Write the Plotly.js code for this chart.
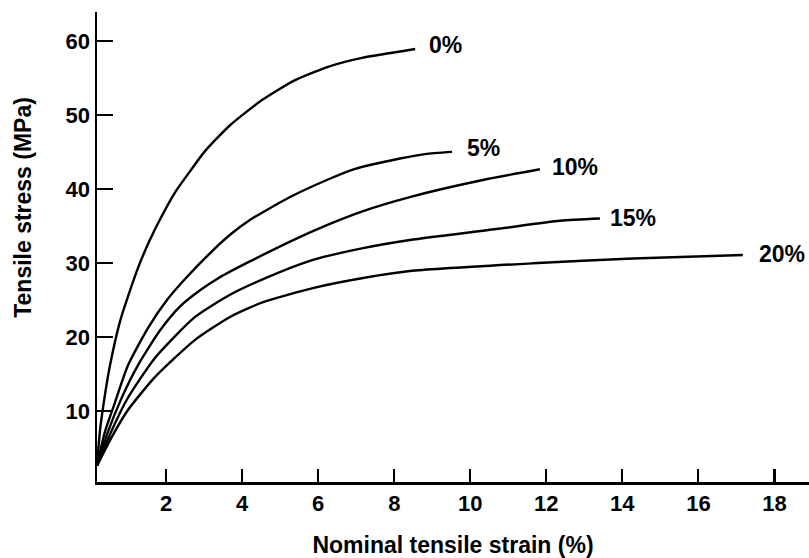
<!DOCTYPE html>
<html>
<head>
<meta charset="utf-8">
<script src="https://cdn.plot.ly/plotly-3.0.1.min.js"></script>
<style>html,body{margin:0;padding:0;background:#fff;}#chart{width:809px;height:558px;}</style>
</head>
<body>
<div id="chart"></div>
<script>
// Series labels
const seriesLabels = ["0%", "5%", "10%", "15%", "20%"];

// Nominal tensile strain (%) and tensile stress (MPa)
const strain0  = [0.18, 0.26, 0.39, 0.52, 0.78, 1.05, 1.31, 1.57, 1.84, 2.23, 2.63, 3.02, 3.68, 4.52, 5.39, 6.26, 7.15, 8.55];
const stress0  = [2.6, 7.4, 12.2, 16.1, 22.0, 26.3, 30.0, 33.1, 35.9, 39.5, 42.4, 45.1, 48.6, 52.0, 54.7, 56.5, 57.7, 58.9];

const strain5  = [0.18, 0.39, 0.65, 0.99, 1.52, 2.02, 2.49, 3.15, 3.68, 4.20, 5.26, 6.18, 6.97, 8.15, 8.81, 9.52];
const stress5  = [2.6, 7.2, 11.1, 16.1, 21.2, 25.0, 27.8, 31.3, 33.8, 35.8, 38.9, 41.1, 42.7, 44.1, 44.7, 45.0];

const strain10 = [0.18, 0.47, 0.84, 1.26, 1.84, 2.36, 2.89, 3.36, 4.20, 5.86, 7.18, 8.41, 10.33, 11.83];
const stress10 = [2.6, 7.2, 11.9, 16.2, 20.9, 24.1, 26.3, 27.9, 30.2, 34.3, 37.0, 38.9, 41.2, 42.65];

const strain15 = [0.18, 0.57, 0.99, 1.71, 2.76, 3.68, 4.55, 5.86, 7.18, 8.41, 10.78, 12.36, 13.41];
const stress15 = [2.6, 7.4, 11.75, 17.2, 22.7, 25.7, 27.8, 30.4, 32.0, 33.1, 34.65, 35.7, 36.0];

const strain20 = [0.18, 0.57, 0.99, 1.71, 2.76, 3.68, 4.55, 5.86, 7.18, 8.41, 11.65, 14.28, 17.17];
const stress20 = [2.6, 6.5, 10.1, 14.6, 19.6, 22.7, 24.7, 26.6, 27.96, 28.9, 29.95, 30.6, 31.07];

// Axis ticks
const xTicks = [2, 4, 6, 8, 10, 12, 14, 16, 18];
const yTicks = [10, 20, 30, 40, 50, 60];

const xs = [strain0, strain5, strain10, strain15, strain20];
const ys = [stress0, stress5, stress10, stress15, stress20];

const FONT = "Liberation Sans, Arial, sans-serif";

const traces = xs.map((x, i) => ({
  type: "scatter",
  mode: "lines",
  name: seriesLabels[i],
  x: x,
  y: ys[i],
  line: { color: "#000", width: 2.4, shape: "spline", smoothing: 0.6 },
  hoverinfo: "skip"
}));

// label offsets (pixels) from each curve end
const labelShift = [[12, 4], [13, 4], [10, 2], [8, 1], [14, 1]];
const annotations = xs.map((x, i) => ({
  x: x[x.length - 1],
  y: ys[i][ys[i].length - 1],
  xref: "x", yref: "y",
  text: seriesLabels[i],
  showarrow: false,
  xanchor: "left", yanchor: "middle",
  xshift: labelShift[i][0], yshift: labelShift[i][1],
  font: { family: FONT, size: 23, color: "#000", weight: "bold" }
}));

annotations.push({
  xref: "paper", yref: "paper",
  x: -0.1, y: 0.5,
  text: "Tensile stress (MPa)",
  textangle: -90,
  showarrow: false,
  xanchor: "center", yanchor: "middle",
  xshift: -3, yshift: 40,
  font: { family: FONT, size: 23, color: "#000", weight: "bold" }
});

const layout = {
  width: 809, height: 558,
  margin: { l: 97, r: 0, t: 12, b: 76, pad: 0 },
  paper_bgcolor: "#fff", plot_bgcolor: "#fff",
  showlegend: false,
  font: { family: FONT, color: "#000", size: 22, weight: "bold" },
  xaxis: {
    range: [0.18, 18.91],
    tickvals: xTicks,
    ticks: "inside", ticklen: 13, tickwidth: 2.2, tickcolor: "#000",
    showline: true, linecolor: "#000", linewidth: 2.5,
    showgrid: false, zeroline: false,
    tickfont: { family: FONT, size: 22, color: "#000", weight: "bold" },
    title: { text: "Nominal tensile strain (%)", standoff: 24,
             font: { family: FONT, size: 23, color: "#000", weight: "bold" } }
  },
  yaxis: {
    range: [0.4, 63.9],
    tickvals: yTicks,
    ticks: "inside", ticklen: 16, tickwidth: 2.2, tickcolor: "#000",
    showline: true, linecolor: "#000", linewidth: 2.5,
    showgrid: false, zeroline: false,
    tickfont: { family: FONT, size: 22, color: "#000", weight: "bold" }
  },
  annotations: annotations
};

Plotly.newPlot("chart", traces, layout, { staticPlot: true, displayModeBar: false });
</script>
</body>
</html>
